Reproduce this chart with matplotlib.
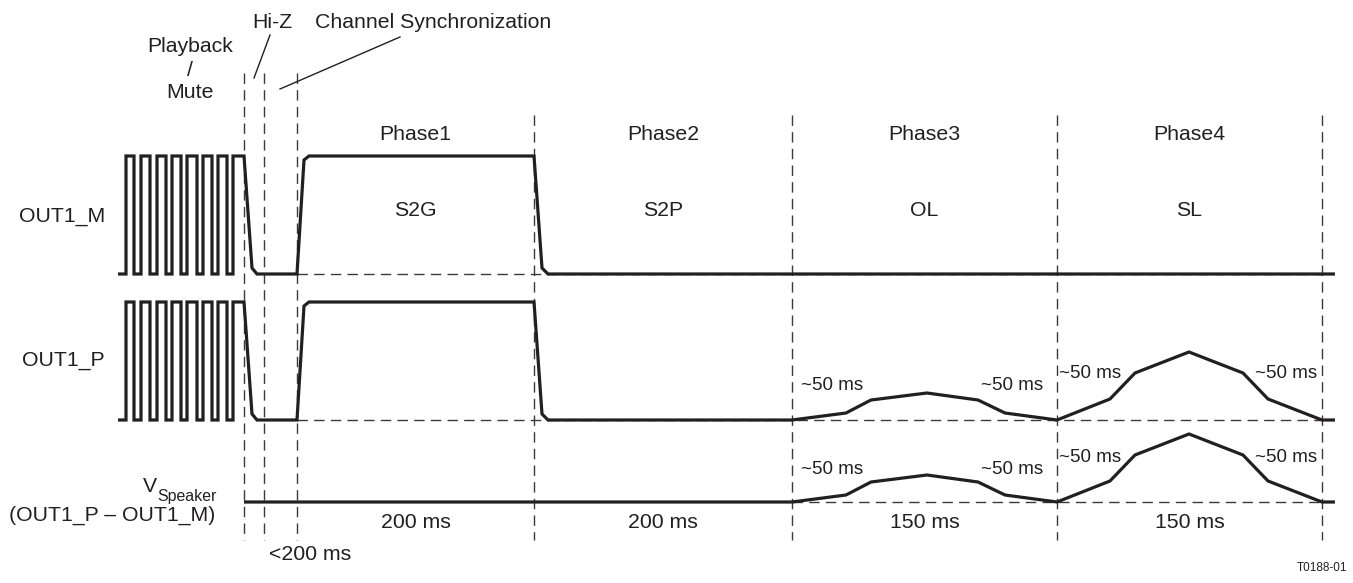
import numpy as np
import matplotlib.pyplot as plt

plt.rcParams['font.family'] = ['Liberation Sans', 'DejaVu Sans']

# diagram units = pixels of the 1353 x 583 sheet, y grows downward
W, H = 1353, 583

# time markers (vertical dashed guides)
early_marks = [244, 264, 297]            # playback/mute | hi-z | channel sync
phase_marks = [297, 534, 792, 1057, 1322]
phase_names = ["Phase1", "Phase2", "Phase3", "Phase4"]
phase_modes = ["S2G", "S2P", "OL", "SL"]
phase_times = ["200 ms", "200 ms", "150 ms", "150 ms"]

# trace levels (high, low)
m_hi, m_lo = 156, 274
p_hi, p_lo = 302, 420
v_base = 502
trace_end = 1335

# pwm edges during playback
pwm_start = 118
pwm_rise = [126, 141, 157, 172, 187, 203, 218, 233]
pwm_fall = [134, 150, 166, 181, 197, 212, 227]

# OL / SL ramps: x offset from phase start, height above baseline
ol_dx = [0, 54, 79, 135, 186, 213, 265]
ol_h = [0, 7, 20, 27, 20, 7, 0]
sl_dx = [0, 53, 78, 132, 186, 211, 265]
sl_h = [0, 21, 47, 68, 47, 21, 0]

ink = "#231f20"
dash_col = "#3a3a3a"


def pwm_then_pulse(hi, lo):
    xs, ys = [pwm_start], [lo]
    for i, r in enumerate(pwm_rise):
        xs += [r, r]
        ys += [lo, hi]
        if i < len(pwm_fall):
            f = pwm_fall[i]
            xs += [f, f]
            ys += [hi, lo]
    # mute ramp, hi-z, sync, phase1 high, phase1 ramp down
    xs += [244, 252, 257, 297, 304, 309, 534, 542, 548]
    ys += [hi, lo - 6, lo, lo, hi + 4, hi, hi, lo - 6, lo]
    return xs, ys


def ramps(base):
    xs, ys = [], []
    for x0, dx, hh in [(phase_marks[2], ol_dx, ol_h), (phase_marks[3], sl_dx, sl_h)]:
        xs += [x0 + d for d in dx]
        ys += [base - h for h in hh]
    return xs, ys


fig = plt.figure(figsize=(W / 100, H / 100), dpi=100)
ax = fig.add_axes([0, 0, 1, 1])
ax.set_xlim(0, W)
ax.set_ylim(H, 0)
ax.axis("off")

dash_kw = dict(color=dash_col, lw=1.0, dashes=(7.5, 4.5))

### vertical guides ###
for x in early_marks:
    ax.plot([x, x], [73, 540], **dash_kw)
for x in phase_marks[1:]:
    ax.plot([x, x], [115, 540], **dash_kw)

### horizontal baselines ###
ax.plot([297, 1322], [m_lo, m_lo], **dash_kw)
ax.plot([297, 1322], [p_lo, p_lo], **dash_kw)
ax.plot([792, 1322], [v_base, v_base], **dash_kw)

### traces ###
line_kw = dict(color=ink, lw=2.3, solid_joinstyle="miter", solid_capstyle="butt")
mx, my = pwm_then_pulse(m_hi, m_lo)
ax.plot(mx + [trace_end], my + [m_lo], **line_kw)

px, py = pwm_then_pulse(p_hi, p_lo)
rx, ry = ramps(p_lo)
ax.plot(px + rx + [trace_end], py + ry + [p_lo], **line_kw)

vx, vy = ramps(v_base)
ax.plot([244] + vx + [trace_end], [v_base] + vy + [v_base], **line_kw)

### labels ###
fs = 15.3
tkw = dict(color=ink, fontsize=fs, ha="center", va="center")
for i in range(4):
    xc = (phase_marks[i] + phase_marks[i + 1]) / 2
    ax.text(xc, 134, phase_names[i], **tkw)
    ax.text(xc, 211, phase_modes[i], **tkw)
    ax.text(xc, 523, phase_times[i], **tkw)

ax.text(105, 217, "OUT1_M", color=ink, fontsize=fs, ha="right", va="center")
ax.text(105, 360, "OUT1_P", color=ink, fontsize=fs, ha="right", va="center")
ax.text(215, 515, "(OUT1_P – OUT1_M)", color=ink, fontsize=fs, ha="right", va="center")
ax.text(157, 486, "V", color=ink, fontsize=fs, ha="right", va="center")
ax.text(157, 496, "Speaker", color=ink, fontsize=11.4, ha="left", va="center")

ax.text(190, 46, "Playback", **tkw)
ax.text(190, 71, "/", **tkw)
ax.text(190, 93, "Mute", **tkw)
ax.text(272, 22, "Hi-Z", **tkw)
ax.text(433, 22, "Channel Synchronization", **tkw)
ax.plot([270, 254], [35, 78], color=ink, lw=1.0)
ax.plot([400, 280], [37, 89], color=ink, lw=1.0)
ax.text(310, 554, "<200 ms", **tkw)

for xc, yc in [(832, 386), (1012, 386), (832, 469), (1012, 469),
               (1090, 374), (1286, 374), (1090, 457), (1286, 457)]:
    ax.text(xc, yc, "~50 ms", color=ink, fontsize=13.5, ha="center", va="center")

ax.text(1347, 568, "T0188-01", color=ink, fontsize=8.5, ha="right", va="center")

fig.savefig("out.png", dpi=100)
